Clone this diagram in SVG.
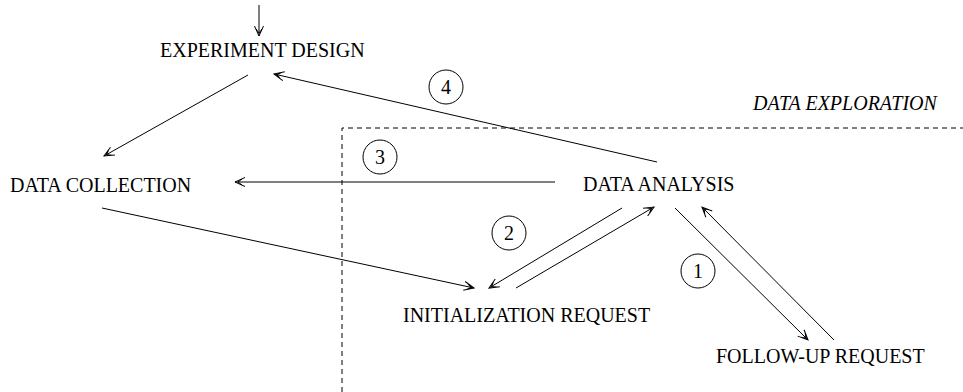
<svg xmlns="http://www.w3.org/2000/svg" width="963" height="392" viewBox="0 0 963 392">
<style>
text{font-family:"Liberation Serif","Times New Roman",serif;font-size:20px;fill:#000}
.it{font-style:italic}
.c line{stroke:#000;stroke-width:1;fill:none}
.a{marker-end:url(#ah)}
circle{fill:none;stroke:#000;stroke-width:1}
.lab{text-anchor:middle}
</style>
<defs>
<marker id="ah" viewBox="-12 -6 14 12" refX="0" refY="0" markerWidth="14" markerHeight="12" orient="auto" markerUnits="userSpaceOnUse">
<path d="M-10,-4.5 L0,0 L-10,4.5 M-7,-3 L-3,0 L-7,3" fill="none" stroke="#000" stroke-width="1"/>
</marker>
</defs>
<rect x="0" y="0" width="963" height="392" fill="#fff"/>
<path d="M342,392 L342,128 L963,128" fill="none" stroke="#000" stroke-dasharray="5,4"/>
<text class="it" x="753" y="110">DATA EXPLORATION</text>
<g id="experiment-design"><text x="160" y="57">EXPERIMENT DESIGN</text></g>
<g id="data-collection"><text x="10" y="192">DATA COLLECTION</text></g>
<g id="data-analysis"><text x="583" y="191">DATA ANALYSIS</text></g>
<g id="initialization-request"><text x="403" y="322">INITIALIZATION REQUEST</text></g>
<g id="follow-up-request"><text x="716" y="363">FOLLOW-UP REQUEST</text></g>
<g class="c" id="connectors">
<line class="a" x1="259" y1="5" x2="259" y2="36"/>
<line class="a" x1="248" y1="75" x2="104" y2="156"/>
<line class="a" x1="657" y1="162" x2="274" y2="74"/>
<line class="a" x1="555" y1="182" x2="235" y2="182"/>
<line class="a" x1="102" y1="208" x2="474" y2="288"/>
<line class="a" x1="622" y1="208" x2="489" y2="288"/>
<line class="a" x1="516" y1="288" x2="654" y2="207"/>
<line class="a" x1="675" y1="208" x2="808" y2="340"/>
<line class="a" x1="834" y1="340" x2="702" y2="207"/>
</g>
<g id="label-1"><circle cx="698" cy="271" r="17"/><text class="lab" x="698" y="278">1</text></g>
<g id="label-2"><circle cx="509" cy="233" r="17"/><text class="lab" x="509" y="240">2</text></g>
<g id="label-3"><circle cx="380" cy="157" r="17"/><text class="lab" x="380" y="164">3</text></g>
<g id="label-4"><circle cx="446" cy="87" r="17"/><text class="lab" x="446" y="94">4</text></g>
</svg>
